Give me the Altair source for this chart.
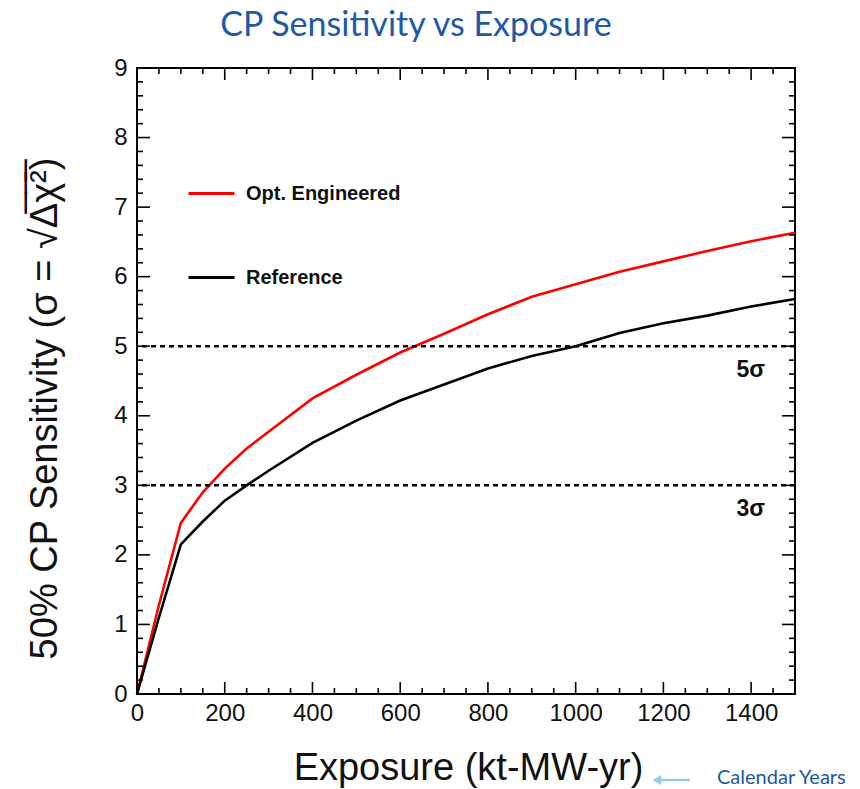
import altair as alt
import pandas as pd

# ---------------- data ----------------
exposure = [0, 50, 100, 150, 200, 250, 300, 400, 500, 600, 700, 800,
            900, 1000, 1100, 1200, 1300, 1400, 1500]
opt_engineered = [0, 1.28, 2.46, 2.90, 3.24, 3.53, 3.77, 4.25, 4.59, 4.91,
                  5.18, 5.46, 5.71, 5.89, 6.07, 6.22, 6.37, 6.51, 6.63]
reference = [0, 1.10, 2.15, 2.48, 2.78, 3.00, 3.21, 3.61, 3.93, 4.22,
             4.45, 4.68, 4.86, 5.00, 5.19, 5.33, 5.44, 5.57, 5.68]
series_names = ["Opt. Engineered", "Reference"]
series_colors = ["#ff0000", "#000000"]

thresholds = [5, 3]
threshold_labels = ["5\u03c3", "3\u03c3"]

x_tick_labels = [0, 200, 400, 600, 800, 1000, 1200, 1400]
x_minor = [v for v in range(0, 1501, 50) if v % 200 != 0]
y_tick_labels = [0, 1, 2, 3, 4, 5, 6, 7, 8, 9]
y_minor = [round(i * 0.2, 1) for i in range(0, 46) if i % 5 != 0]

W, H = 658, 626
FONT = "Liberation Sans"
BLUE = "#2059A6"

rows = []
for name, vals in zip(series_names, [opt_engineered, reference]):
    for x, y in zip(exposure, vals):
        rows.append({"exposure": x, "sens": y, "series": name})
df = pd.DataFrame(rows)

xscale = alt.Scale(domain=[0, 1500], nice=False, zero=False)
yscale = alt.Scale(domain=[0, 9], nice=False, zero=False)

x_axis = alt.Axis(values=x_tick_labels, title="Exposure (kt-MW-yr)", format="d",
                  domain=False, ticks=False, tickSize=0, grid=False,
                  labelFont=FONT, labelFontSize=24, labelColor="#111",
                  labelPadding=7, labelFlush=False,
                  titleFont=FONT, titleFontSize=38, titleFontWeight="normal",
                  titleColor="#111", titleX=331, titleY=74,
                  titleBaseline="middle", titleAlign="center")
y_axis = alt.Axis(values=y_tick_labels, format="d",
                  title="50% CP Sensitivity (\u03c3 = \u221a\u0394\u0305\u03c7\u0305\u00b2\u0305)",
                  domain=False, ticks=False, tickSize=0, grid=False,
                  labelFont=FONT, labelFontSize=24, labelColor="#111",
                  labelPadding=10, labelFlush=False,
                  titleFont=FONT, titleFontSize=38, titleFontWeight="normal",
                  titleColor="#111", titleX=-92, titleY=340, titleAngle=-90,
                  titleBaseline="middle", titleAlign="center")

X = lambda: alt.X("exposure:Q", scale=xscale, axis=x_axis)
Y = lambda: alt.Y("sens:Q", scale=yscale, axis=y_axis)

lines = alt.Chart(df).mark_line(strokeWidth=2.6).encode(
    x=X(), y=Y(),
    color=alt.Color("series:N",
                    scale=alt.Scale(domain=series_names, range=series_colors),
                    legend=alt.Legend(orient="none", legendX=50, legendY=101,
                                      title=None, symbolType="stroke",
                                      symbolSize=2116, symbolStrokeWidth=3,
                                      labelFont=FONT, labelFontSize=20,
                                      labelFontWeight="bold", labelColor="#111",
                                      rowPadding=49, labelOffset=10, padding=0)),
)

thr_df = pd.DataFrame({"sens": thresholds, "label": threshold_labels})
thr_lines = alt.Chart(thr_df).mark_rule(color="black", strokeWidth=2.5,
                                        strokeDash=[5, 4]).encode(y=Y())
thr_text = alt.Chart(thr_df).mark_text(align="right", baseline="middle", dy=24,
                                       font=FONT, fontSize=23, fontWeight="bold",
                                       color="#111").encode(
    x=alt.value(628), y=Y(), text="label:N")

# inward ticks on all four sides (ROOT style)
xmaj = pd.DataFrame({"exposure": x_tick_labels})
xmin = pd.DataFrame({"exposure": x_minor})
ymaj = pd.DataFrame({"sens": y_tick_labels})
ymin = pd.DataFrame({"sens": y_minor})

tick_layers = []
for d, ln in [(xmaj, 12), (xmin, 6)]:
    tick_layers.append(alt.Chart(d).mark_rule(color="black", strokeWidth=1.6).encode(
        x=X(), y=alt.value(H), y2=alt.value(H - ln)))
    tick_layers.append(alt.Chart(d).mark_rule(color="black", strokeWidth=1.6).encode(
        x=X(), y=alt.value(0), y2=alt.value(ln)))
for d, ln in [(ymaj, 13), (ymin, 6)]:
    tick_layers.append(alt.Chart(d).mark_rule(color="black", strokeWidth=1.6).encode(
        y=Y(), x=alt.value(0), x2=alt.value(ln)))
    tick_layers.append(alt.Chart(d).mark_rule(color="black", strokeWidth=1.6).encode(
        y=Y(), x=alt.value(W), x2=alt.value(W - ln)))

# "Calendar Years" annotation with arrow
arrow_line = alt.Chart().mark_rule(color="#8ECFE6", strokeWidth=2.5).encode(
    x=alt.value(522), x2=alt.value(553), y=alt.value(712))
arrow_head = alt.Chart().mark_point(shape="triangle-left", filled=True,
                                    color="#8ECFE6", size=100, opacity=1).encode(
    x=alt.value(520), y=alt.value(712))
cal_text = alt.Chart().mark_text(text="Calendar Years", align="left",
                                 baseline="alphabetic", font="Lato",
                                 fontSize=20, color=BLUE).encode(
    x=alt.value(580), y=alt.value(716))

chart = alt.layer(
    lines, *tick_layers, thr_lines, thr_text, arrow_line, arrow_head, cal_text
).properties(
    width=W, height=H,
    autosize=alt.AutoSizeParams(type="none"),
    padding={"left": 137, "top": 68, "right": 65, "bottom": 95},
    title=alt.TitleParams("CP Sensitivity vs Exposure", font="Lato", fontSize=34,
                          fontWeight="normal", color=BLUE, anchor="middle",
                          frame="group", dx=-50, offset=13),
).configure_view(stroke="black", strokeWidth=2)

chart.save("out.html", embed_options={"renderer": "svg", "actions": False})
